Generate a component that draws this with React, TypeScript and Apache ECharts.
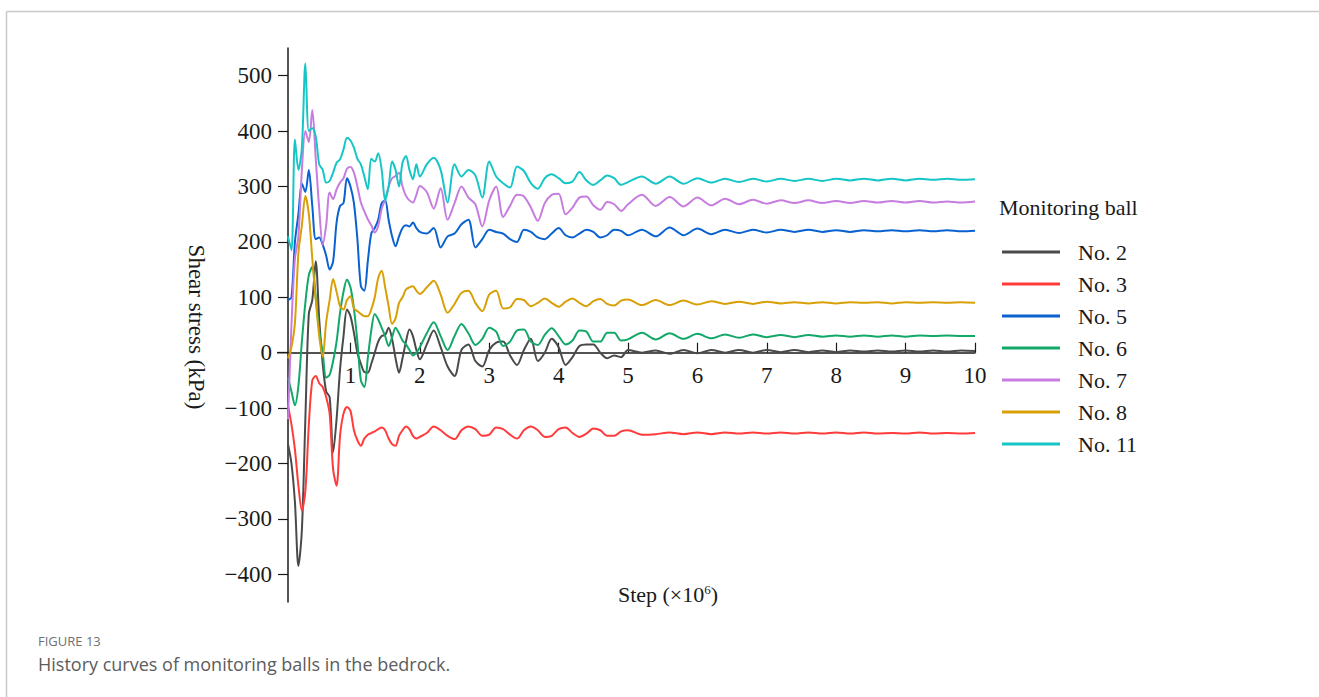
import React, { useEffect, useRef } from "react";
import * as echarts from "echarts";

// Calculation steps (×10^6) shared by every monitoring-ball record
const STEPS = [
  0.1, 0.15, 0.2, 0.25, 0.3, 0.35, 0.4, 0.45, 0.5, 0.55,
  0.6, 0.65, 0.7, 0.75, 0.8, 0.85, 0.9, 0.95, 1.0, 1.05,
  1.1, 1.15, 1.2, 1.25, 1.3, 1.35, 1.4, 1.45, 1.5, 1.55,
  1.6, 1.65, 1.7, 1.75, 1.8, 1.85, 1.9, 1.95, 2.0,
  2.1, 2.2, 2.3, 2.4, 2.5, 2.6, 2.7, 2.8, 2.9, 3.0,
  3.1, 3.2, 3.3, 3.4, 3.5, 3.6, 3.7, 3.8, 3.9, 4.0,
  4.1, 4.2, 4.3, 4.4, 4.5, 4.6, 4.7, 4.8, 4.9, 5.0,
  5.2, 5.4, 5.6, 5.8, 6.0, 6.2, 6.4, 6.6, 6.8, 7.0,
  7.2, 7.4, 7.6, 7.8, 8.0, 8.2, 8.4, 8.6, 8.8, 9.0,
  9.2, 9.4, 9.6, 9.8, 10.0,
];

// Shear stress (kPa) recorded by each monitoring ball
const NO_2 = [
  -165, -200, -270, -385, -320, -120, 70, 95, 165, 60,
  -20, -70, -80, -180, -120, -30, 30, 78, 66, 36,
  0, -20, -35, -36, -20, 0, 20, 30, 32, 45,
  25, -10, -36, -10, 20, 42, 30, 5, -12,
  15, 40, 10, -25, -42, 5, 15, -15, -25, 5,
  18, 20, -5, -22, 5, 25, -15, 0, 25, 10,
  -22, -8, 12, 15, 15, 0, -10, -5, -8, 5,
  0, 4, -2, 5, -1, 5, 0, 5, 0, 5,
  1, 5, 1, 4, 1, 4, 2, 4, 2, 4,
  2, 4, 2, 4, 3,
];
const NO_3 = [
  -95, -130, -175, -240, -285, -250, -130, -50, -42, -55,
  -62, -80, -110, -210, -240, -150, -110, -98, -105, -140,
  -158, -168, -155, -148, -145, -142, -138, -135, -140, -155,
  -165, -168, -150, -140, -133, -138, -150, -155, -152,
  -145, -133, -140, -150, -156, -140, -133, -138, -150, -148,
  -135, -138, -148, -155, -140, -133, -140, -152, -150, -138,
  -135, -145, -152, -146, -137, -140, -150, -150, -142, -140,
  -148, -147, -144, -147, -144, -147, -144, -146, -144, -146,
  -144, -146, -144, -146, -144, -146, -144, -146, -145, -146,
  -144, -146, -145, -146, -145,
];
const NO_5 = [
  95, 100, 200, 250, 305, 290, 330, 265, 205, 208,
  195, 175, 150, 165, 235, 265, 270, 315, 300, 270,
  205, 120, 112, 165, 215, 225, 240, 270, 275, 240,
  210, 192, 210, 225, 230, 228, 235, 225, 218,
  215, 225, 190, 210, 215, 232, 240, 190, 205, 222,
  218, 215, 205, 200, 222, 218, 208, 205, 215, 225,
  212, 208, 215, 222, 218, 208, 212, 222, 220, 212,
  222, 210, 226, 212, 224, 214, 222, 216, 222, 217,
  222, 218, 222, 218, 221, 218, 221, 219, 221, 219,
  221, 219, 221, 219, 220,
];
const NO_6 = [
  -45, -70, -95, -60, 20, 90, 140, 155, 100, 40,
  0, -45, -40, -15, 20, 72, 110, 132, 118, 80,
  20, -50, -62, -10, 40, 70, 60, 45, 30, 12,
  28, 45, 35, 22, 15, 5, -5, 0, 10,
  35, 55, 30, 5, 30, 52, 35, 14, 25, 45,
  38, 12, 20, 40, 42, 20, 14, 32, 44, 30,
  15, 22, 40, 38, 20, 20, 36, 36, 22, 24,
  36, 24, 35, 25, 34, 26, 33, 27, 33, 28,
  32, 28, 32, 29, 31, 29, 31, 29, 31, 29,
  31, 30, 31, 30, 30,
];
const NO_7 = [
  -120, 50, 170, 210, 330, 400, 380, 438, 350, 260,
  195, 230, 289, 277, 295, 307, 315, 332, 335, 325,
  300, 271, 255, 241, 230, 217, 229, 260, 277, 300,
  315, 319, 325, 300, 283, 275, 271, 285, 301,
  290, 260, 297, 240, 270, 300, 280, 268, 228, 275,
  300, 245, 265, 285, 282, 262, 238, 270, 285, 287,
  250, 262, 280, 282, 266, 258, 272, 268, 256, 268,
  285, 265, 281, 264, 280, 266, 278, 268, 276, 269,
  275, 270, 275, 270, 274, 270, 274, 271, 274, 271,
  274, 271, 273, 271, 273,
];
const NO_8 = [
  -10, 10, 54, 180, 230, 283, 250, 170, 95, 30,
  -8, 55, 95, 133, 110, 84, 78, 95, 102, 80,
  75, 70, 66, 66, 78, 100, 135, 148, 118, 84,
  52, 62, 90, 100, 114, 118, 120, 112, 106,
  118, 130, 105, 72, 88, 108, 112, 90, 75, 105,
  112, 80, 82, 97, 95, 84, 90, 98, 90, 83,
  92, 98, 90, 84, 93, 97, 88, 85, 94, 96,
  86, 95, 86, 94, 87, 93, 88, 92, 88, 92,
  89, 91, 89, 91, 89, 91, 90, 91, 89, 91,
  90, 91, 90, 91, 90,
];
const NO_11 = [
  210, 185, 385, 330, 370, 522, 400, 405, 390, 340,
  330, 307, 310, 325, 343, 349, 367, 388, 383, 370,
  350, 340, 318, 295, 350, 345, 360, 330, 275, 300,
  345, 330, 300, 343, 355, 330, 313, 340, 318,
  340, 352, 330, 271, 340, 318, 330, 320, 280, 345,
  318, 306, 298, 336, 328, 306, 296, 315, 322, 315,
  306, 309, 326, 311, 303, 311, 320, 315, 303, 308,
  318, 305, 318, 305, 315, 307, 314, 308, 314, 309,
  314, 310, 314, 310, 314, 311, 314, 311, 314, 311,
  314, 312, 314, 312, 313,
];

const SERIES_NAMES = ["No. 2", "No. 3", "No. 5", "No. 6", "No. 7", "No. 8", "No. 11"];
const SERIES_VALUES = [NO_2, NO_3, NO_5, NO_6, NO_7, NO_8, NO_11];
const SERIES_COLORS = ["#4a4a4a", "#ff3b3b", "#0a62d0", "#13a86a", "#c67ddf", "#d8a006", "#16c6c6"];

const X_TICKS = [1, 2, 3, 4, 5, 6, 7, 8, 9, 10];
const Y_TICKS = [-400, -300, -200, -100, 0, 100, 200, 300, 400, 500];

const SERIF = "'Liberation Serif', 'Times New Roman', serif";
const SANS = "'Open Sans', 'Noto Sans', sans-serif";
const INK = "#1a1a1a";

const GRID = { left: 288, top: 48, width: 687, height: 554 };

const minusSign = (v: number) => (v < 0 ? "\u2212" + Math.abs(v) : String(v));

export default function App() {
  const ref = useRef<HTMLDivElement>(null);

  useEffect(() => {
    if (!ref.current) return;
    const chart = echarts.init(ref.current, null, { renderer: "svg" });

    const series = SERIES_NAMES.map((name, k) => ({
      name,
      type: "line",
      data: STEPS.map((x, i) => [x, SERIES_VALUES[k][i]]),
      showSymbol: false,
      symbol: "none",
      smooth: 0.3,
      color: SERIES_COLORS[k],
      lineStyle: { width: 2, color: SERIES_COLORS[k] },
      emphasis: { disabled: true },
    }));

    chart.setOption({
      animation: false,
      backgroundColor: "#ffffff",
      grid: { ...GRID, containLabel: false, outerBoundsMode: "none" },
      xAxis: {
        type: "value",
        min: 0.1,
        max: 10,
        position: "bottom",
        offset: 0,
        axisLine: { onZero: false, lineStyle: { color: INK, width: 1.5 } },
        axisTick: {
          show: true,
          inside: true,
          length: 10,
          customValues: X_TICKS,
          lineStyle: { color: INK, width: 1.2 },
        },
        axisLabel: {
          customValues: X_TICKS,
          margin: 11,
          fontFamily: SERIF,
          fontSize: 23,
          color: INK,
        },
        splitLine: { show: false },
      },
      yAxis: {
        type: "value",
        min: -450,
        max: 550,
        axisLine: { show: true, onZero: false, lineStyle: { color: INK, width: 1.5 } },
        axisTick: {
          show: true,
          inside: false,
          length: 10,
          customValues: Y_TICKS,
          lineStyle: { color: INK, width: 1.2 },
        },
        axisLabel: {
          customValues: Y_TICKS,
          margin: 16,
          fontFamily: SERIF,
          fontSize: 23,
          color: INK,
          formatter: minusSign,
        },
        splitLine: { show: false },
      },
      legend: {
        orient: "vertical",
        left: 1002,
        top: 241,
        padding: 0,
        itemWidth: 58,
        itemHeight: 3,
        itemGap: 10,
        icon: "rect",
        selectedMode: false,
        textStyle: {
          fontFamily: SERIF,
          fontSize: 22,
          color: INK,
          lineHeight: 22,
          padding: [0, 0, 0, 13],
        },
        data: SERIES_NAMES,
      },
      series,
    });

    // lift the step axis from the grid bottom up to the zero-stress line
    const origin = chart.convertToPixel({ gridIndex: 0 }, [STEPS[0], 0]) as number[];
    const lift = origin[1] - (GRID.top + GRID.height);

    chart.setOption({
      xAxis: { offset: lift },
      graphic: {
        elements: [
          // card frame
          { type: "line", shape: { x1: 6.5, y1: 11.5, x2: 1319, y2: 11.5 }, style: { stroke: "#c8c8c8", lineWidth: 1.5 }, silent: true },
          { type: "line", shape: { x1: 6.5, y1: 11.5, x2: 6.5, y2: 697 }, style: { stroke: "#c8c8c8", lineWidth: 1.5 }, silent: true },
          // x-axis line continues past the y-axis
          {
            type: "line",
            shape: { x1: origin[0] - 11, y1: origin[1], x2: origin[0], y2: origin[1] },
            style: { stroke: INK, lineWidth: 1.5 },
            silent: true,
          },
          {
            type: "text",
            x: 196,
            y: 327,
            rotation: -Math.PI / 2,
            style: {
              text: "Shear stress (kPa)",
              font: `23px ${SERIF}`,
              fill: INK,
              align: "center",
              verticalAlign: "middle",
            },
            silent: true,
          },
          {
            type: "text",
            x: 668,
            y: 594,
            style: {
              text: "Step (×10{sup|6})",
              font: `22px ${SERIF}`,
              fill: INK,
              align: "center",
              verticalAlign: "middle",
              rich: {
                sup: { fontSize: 13, fontFamily: SERIF, fill: INK, verticalAlign: "top", lineHeight: 14 },
              },
            },
            silent: true,
          },
          {
            type: "text",
            x: 999,
            y: 207,
            style: {
              text: "Monitoring ball",
              font: `22px ${SERIF}`,
              fill: INK,
              align: "left",
              verticalAlign: "middle",
            },
            silent: true,
          },
          {
            type: "text",
            x: 38,
            y: 641,
            style: {
              text: "FIGURE 13",
              font: `13px ${SANS}`,
              fill: "#707070",
              align: "left",
              verticalAlign: "middle",
            },
            silent: true,
          },
          {
            type: "text",
            x: 38,
            y: 664,
            style: {
              text: "History curves of monitoring balls in the bedrock.",
              font: `18px ${SANS}`,
              fill: "#5c5c5c",
              align: "left",
              verticalAlign: "middle",
            },
            silent: true,
          },
        ],
      },
    });

    return () => chart.dispose();
  }, []);

  return (
    <div
      ref={ref}
      style={{ position: "fixed", left: 0, top: 0, width: 1319, height: 697, background: "#ffffff" }}
    />
  );
}
